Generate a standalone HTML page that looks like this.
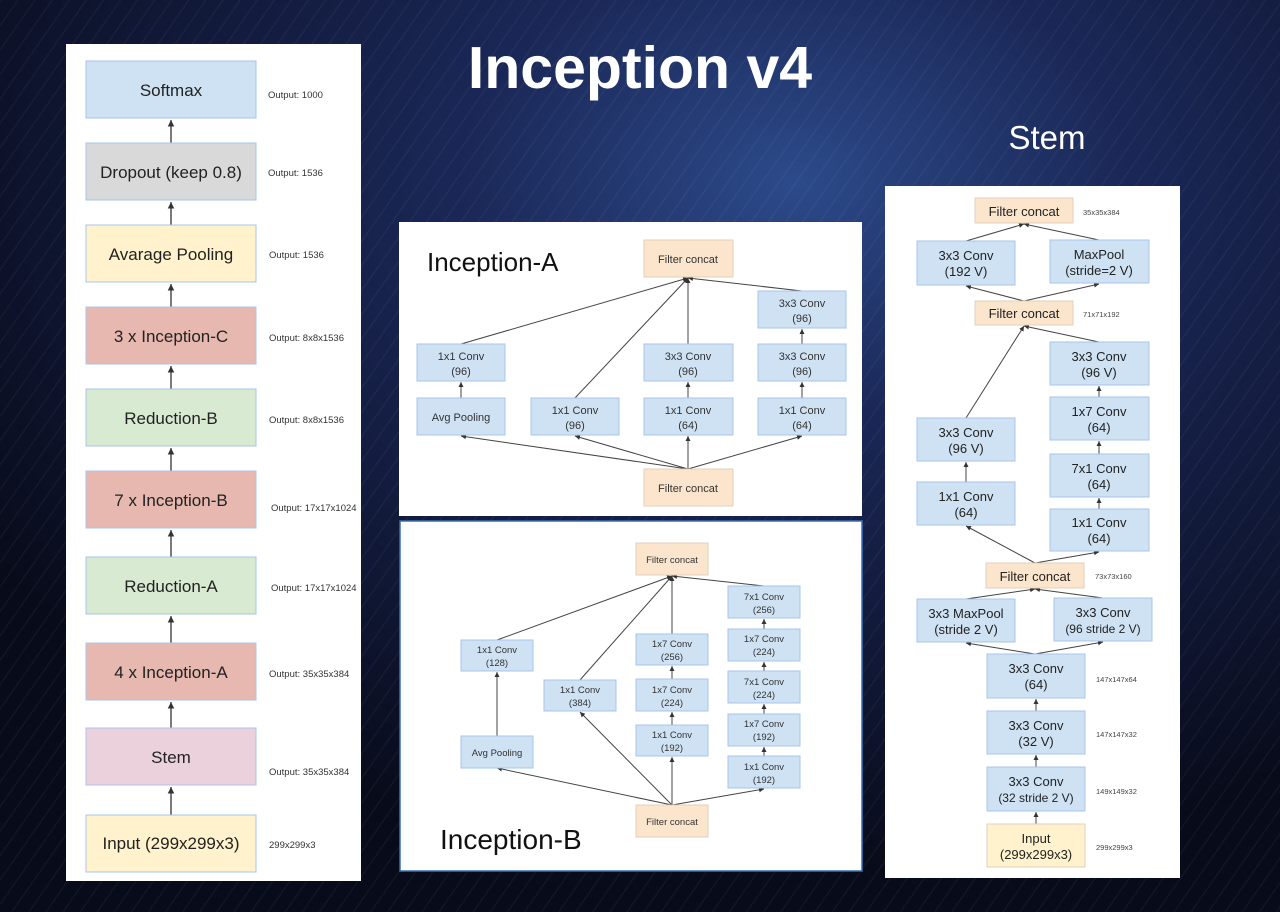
<!DOCTYPE html>
<html><head><meta charset="utf-8"><style>
html,body{margin:0;padding:0;width:1280px;height:912px;overflow:hidden;background:#0b0f24}
svg{display:block}
text{font-family:"Liberation Sans",sans-serif}
</style></head><body>
<svg width="1280" height="912" viewBox="0 0 1280 912" xmlns="http://www.w3.org/2000/svg">
<defs>
<radialGradient id="bg" cx="0.62" cy="0.2" r="0.75">
<stop offset="0" stop-color="#2c4a8a"/><stop offset="0.35" stop-color="#1a2756"/><stop offset="1" stop-color="#080b1a"/>
</radialGradient>
<pattern id="ln" width="14" height="14" patternUnits="userSpaceOnUse" patternTransform="rotate(35)">
<line x1="0" y1="0" x2="0" y2="14" stroke="#ffffff" stroke-opacity="0.04" stroke-width="3"/>
</pattern>
<marker id="a" markerWidth="6" markerHeight="6" refX="5" refY="3" orient="auto"><path d="M0,0.5 L5,3 L0,5.5z" fill="#333"/></marker>
</defs>
<rect width="1280" height="912" fill="url(#bg)"/>
<rect width="1280" height="912" fill="url(#ln)"/>
<text x="640" y="88" text-anchor="middle" font-size="59" font-weight="bold" fill="#fff">Inception v4</text>
<text x="1047" y="149" text-anchor="middle" font-size="33" fill="#fff">Stem</text>

<!-- Left panel -->
<rect x="66" y="44" width="295" height="837" fill="#fff"/>
<g stroke="#333" stroke-width="1.3" marker-end="url(#a)">
<line x1="171" y1="143" x2="171" y2="120"/><line x1="171" y1="225" x2="171" y2="202"/>
<line x1="171" y1="307" x2="171" y2="284"/><line x1="171" y1="389" x2="171" y2="366"/>
<line x1="171" y1="471" x2="171" y2="448"/><line x1="171" y1="557" x2="171" y2="530"/>
<line x1="171" y1="643" x2="171" y2="616"/><line x1="171" y1="728" x2="171" y2="702"/>
<line x1="171" y1="815" x2="171" y2="787"/>
</g>
<g font-size="17" fill="#222" text-anchor="middle">
<rect x="86" y="61" width="170" height="57" fill="#cfe2f3" stroke="#a9c4eb"/><text x="171" y="96">Softmax</text>
<rect x="86" y="143" width="170" height="57" fill="#d9d9d9" stroke="#a9c4eb"/><text x="171" y="178">Dropout (keep 0.8)</text>
<rect x="86" y="225" width="170" height="57" fill="#fff2cc" stroke="#a9c4eb"/><text x="171" y="260">Avarage Pooling</text>
<rect x="86" y="307" width="170" height="57" fill="#e6b8af" stroke="#a9c4eb"/><text x="171" y="342">3 x Inception-C</text>
<rect x="86" y="389" width="170" height="57" fill="#d9ead3" stroke="#a9c4eb"/><text x="171" y="424">Reduction-B</text>
<rect x="86" y="471" width="170" height="57" fill="#e6b8af" stroke="#a9c4eb"/><text x="171" y="506">7 x Inception-B</text>
<rect x="86" y="557" width="170" height="57" fill="#d9ead3" stroke="#a9c4eb"/><text x="171" y="592">Reduction-A</text>
<rect x="86" y="643" width="170" height="57" fill="#e6b8af" stroke="#a9c4eb"/><text x="171" y="678">4 x Inception-A</text>
<rect x="86" y="728" width="170" height="57" fill="#ead1dc" stroke="#a9c4eb"/><text x="171" y="763">Stem</text>
<rect x="86" y="815" width="170" height="57" fill="#fff2cc" stroke="#a9c4eb"/><text x="171" y="849">Input (299x299x3)</text>
</g>
<g font-size="9.5" fill="#333">
<text x="268" y="98">Output: 1000</text><text x="268" y="176">Output: 1536</text>
<text x="269" y="258">Output: 1536</text><text x="269" y="341">Output: 8x8x1536</text>
<text x="269" y="423">Output: 8x8x1536</text><text x="271" y="511">Output: 17x17x1024</text>
<text x="271" y="591">Output: 17x17x1024</text><text x="269" y="677">Output: 35x35x384</text>
<text x="269" y="775">Output: 35x35x384</text><text x="269" y="848">299x299x3</text>
</g>

<!-- Inception-A -->
<rect x="399" y="222" width="463" height="294" fill="#fff"/>
<text x="427" y="271" font-size="26" fill="#111">Inception-A</text>
<g stroke="#444" stroke-width="1" fill="none" marker-end="url(#a)">
<line x1="461" y1="344" x2="688" y2="278"/><line x1="575" y1="398" x2="688" y2="278"/>
<line x1="688" y1="344" x2="688" y2="278"/><line x1="802" y1="291" x2="688" y2="278"/>
<line x1="461" y1="398" x2="461" y2="382"/><line x1="688" y1="398" x2="688" y2="382"/>
<line x1="802" y1="398" x2="802" y2="382"/><line x1="802" y1="344" x2="802" y2="329"/>
<line x1="688" y1="469" x2="461" y2="436"/><line x1="688" y1="469" x2="575" y2="436"/>
<line x1="688" y1="469" x2="688" y2="436"/><line x1="688" y1="469" x2="802" y2="436"/>
</g>
<g font-size="11" fill="#333" text-anchor="middle">
<rect x="644" y="240" width="89" height="37" fill="#fce5cd" stroke="#e3d0bb"/><text x="688" y="263">Filter concat</text>
<rect x="644" y="469" width="89" height="37" fill="#fce5cd" stroke="#e3d0bb"/><text x="688" y="492">Filter concat</text>
<g fill="#cfe2f3" stroke="#a9c4eb">
<rect x="417" y="344" width="88" height="37"/><rect x="417" y="398" width="88" height="37"/>
<rect x="531" y="398" width="88" height="37"/><rect x="644" y="344" width="89" height="37"/>
<rect x="644" y="398" width="89" height="37"/><rect x="758" y="291" width="88" height="37"/>
<rect x="758" y="344" width="88" height="37"/><rect x="758" y="398" width="88" height="37"/>
</g>
<text x="461" y="360">1x1 Conv</text><text x="461" y="375">(96)</text>
<text x="461" y="421">Avg Pooling</text>
<text x="575" y="414">1x1 Conv</text><text x="575" y="429">(96)</text>
<text x="688" y="360">3x3 Conv</text><text x="688" y="375">(96)</text>
<text x="688" y="414">1x1 Conv</text><text x="688" y="429">(64)</text>
<text x="802" y="307">3x3 Conv</text><text x="802" y="322">(96)</text>
<text x="802" y="360">3x3 Conv</text><text x="802" y="375">(96)</text>
<text x="802" y="414">1x1 Conv</text><text x="802" y="429">(64)</text>
</g>

<!-- Inception-B -->
<rect x="400" y="521" width="462" height="350" fill="#fff" stroke="#3b6fb6" stroke-width="1.5"/>
<text x="440" y="849" font-size="28" fill="#111">Inception-B</text>
<g stroke="#444" stroke-width="1" fill="none" marker-end="url(#a)">
<line x1="497" y1="640" x2="672" y2="576"/><line x1="580" y1="680" x2="672" y2="576"/>
<line x1="672" y1="634" x2="672" y2="576"/><line x1="764" y1="586" x2="672" y2="576"/>
<line x1="497" y1="736" x2="497" y2="672"/>
<line x1="672" y1="679" x2="672" y2="666"/><line x1="672" y1="725" x2="672" y2="712"/>
<line x1="764" y1="629" x2="764" y2="619"/><line x1="764" y1="671" x2="764" y2="662"/>
<line x1="764" y1="714" x2="764" y2="704"/><line x1="764" y1="756" x2="764" y2="747"/>
<line x1="672" y1="805" x2="497" y2="768"/><line x1="672" y1="805" x2="580" y2="712"/>
<line x1="672" y1="805" x2="672" y2="757"/><line x1="672" y1="805" x2="764" y2="789"/>
</g>
<g font-size="9.5" fill="#333" text-anchor="middle">
<rect x="636" y="543" width="72" height="32" fill="#fce5cd" stroke="#e3d0bb"/><text x="672" y="563">Filter concat</text>
<rect x="636" y="805" width="72" height="32" fill="#fce5cd" stroke="#e3d0bb"/><text x="672" y="825">Filter concat</text>
<g fill="#cfe2f3" stroke="#a9c4eb">
<rect x="461" y="640" width="72" height="31"/><rect x="461" y="736" width="72" height="32"/>
<rect x="544" y="680" width="72" height="31"/>
<rect x="636" y="634" width="72" height="31"/><rect x="636" y="679" width="72" height="32"/><rect x="636" y="725" width="72" height="31"/>
<rect x="728" y="586" width="72" height="32"/><rect x="728" y="629" width="72" height="32"/><rect x="728" y="671" width="72" height="32"/>
<rect x="728" y="714" width="72" height="32"/><rect x="728" y="756" width="72" height="32"/>
</g>
<text x="497" y="653">1x1 Conv</text><text x="497" y="666">(128)</text>
<text x="497" y="756">Avg Pooling</text>
<text x="580" y="693">1x1 Conv</text><text x="580" y="706">(384)</text>
<text x="672" y="647">1x7 Conv</text><text x="672" y="660">(256)</text>
<text x="672" y="693">1x7 Conv</text><text x="672" y="706">(224)</text>
<text x="672" y="738">1x1 Conv</text><text x="672" y="751">(192)</text>
<text x="764" y="600">7x1 Conv</text><text x="764" y="613">(256)</text>
<text x="764" y="642">1x7 Conv</text><text x="764" y="655">(224)</text>
<text x="764" y="685">7x1 Conv</text><text x="764" y="698">(224)</text>
<text x="764" y="727">1x7 Conv</text><text x="764" y="740">(192)</text>
<text x="764" y="770">1x1 Conv</text><text x="764" y="783">(192)</text>
</g>

<!-- Stem -->
<rect x="885" y="186" width="295" height="692" fill="#fff"/>
<g stroke="#444" stroke-width="1" fill="none" marker-end="url(#a)">
<line x1="966" y1="241" x2="1024" y2="224"/><line x1="1099" y1="240" x2="1024" y2="224"/>
<line x1="1024" y1="301" x2="966" y2="286"/><line x1="1024" y1="301" x2="1099" y2="284"/>
<line x1="966" y1="418" x2="1024" y2="326"/><line x1="1099" y1="342" x2="1024" y2="326"/>
<line x1="1099" y1="397" x2="1099" y2="386"/><line x1="1099" y1="454" x2="1099" y2="441"/>
<line x1="1099" y1="509" x2="1099" y2="498"/><line x1="966" y1="482" x2="966" y2="462"/>
<line x1="1035" y1="563" x2="966" y2="526"/><line x1="1035" y1="563" x2="1099" y2="552"/>
<line x1="966" y1="599" x2="1035" y2="589"/><line x1="1103" y1="598" x2="1035" y2="589"/>
<line x1="1035" y1="654" x2="966" y2="643"/><line x1="1035" y1="654" x2="1103" y2="642"/>
<line x1="1036" y1="711" x2="1036" y2="699"/><line x1="1036" y1="767" x2="1036" y2="755"/>
<line x1="1036" y1="824" x2="1036" y2="812"/>
</g>
<g font-size="13" fill="#222" text-anchor="middle">
<g fill="#fce5cd" stroke="#e3d0bb">
<rect x="975" y="198" width="98" height="25"/><rect x="975" y="301" width="98" height="24"/><rect x="986" y="563" width="98" height="25"/>
</g>
<rect x="987" y="824" width="98" height="43" fill="#fff2cc" stroke="#e3d0bb"/>
<g fill="#cfe2f3" stroke="#a9c4eb">
<rect x="917" y="241" width="98" height="44"/><rect x="1050" y="240" width="99" height="43"/>
<rect x="1050" y="342" width="99" height="43"/><rect x="1050" y="397" width="99" height="43"/>
<rect x="1050" y="454" width="99" height="43"/><rect x="1050" y="509" width="99" height="42"/>
<rect x="917" y="418" width="98" height="43"/><rect x="917" y="482" width="98" height="43"/>
<rect x="917" y="599" width="98" height="43"/><rect x="1054" y="598" width="98" height="43"/>
<rect x="987" y="654" width="98" height="44"/><rect x="987" y="711" width="98" height="43"/><rect x="987" y="767" width="98" height="44"/>
</g>
<text x="1024" y="216">Filter concat</text><text x="1024" y="318">Filter concat</text><text x="1035" y="581">Filter concat</text>
<text x="966" y="260">3x3 Conv</text><text x="966" y="276">(192 V)</text>
<text x="1099" y="259">MaxPool</text><text x="1099" y="275">(stride=2 V)</text>
<text x="1099" y="361">3x3 Conv</text><text x="1099" y="377">(96 V)</text>
<text x="1099" y="416">1x7 Conv</text><text x="1099" y="432">(64)</text>
<text x="1099" y="473">7x1 Conv</text><text x="1099" y="489">(64)</text>
<text x="1099" y="527">1x1 Conv</text><text x="1099" y="543">(64)</text>
<text x="966" y="437">3x3 Conv</text><text x="966" y="453">(96 V)</text>
<text x="966" y="501">1x1 Conv</text><text x="966" y="517">(64)</text>
<text x="966" y="618">3x3 MaxPool</text><text x="966" y="634">(stride 2 V)</text>
<text x="1103" y="617">3x3 Conv</text><text x="1103" y="633" font-size="12">(96 stride 2 V)</text>
<text x="1036" y="673">3x3 Conv</text><text x="1036" y="689">(64)</text>
<text x="1036" y="730">3x3 Conv</text><text x="1036" y="746">(32 V)</text>
<text x="1036" y="786">3x3 Conv</text><text x="1036" y="802" font-size="12">(32 stride 2 V)</text>
<text x="1036" y="843">Input</text><text x="1036" y="859">(299x299x3)</text>
</g>
<g font-size="7.5" fill="#444">
<text x="1083" y="215">35x35x384</text><text x="1083" y="317">71x71x192</text><text x="1095" y="579">73x73x160</text>
<text x="1096" y="682">147x147x64</text><text x="1096" y="737">147x147x32</text><text x="1096" y="794">149x149x32</text>
<text x="1096" y="850">299x299x3</text>
</g>
</svg>
</body></html>
